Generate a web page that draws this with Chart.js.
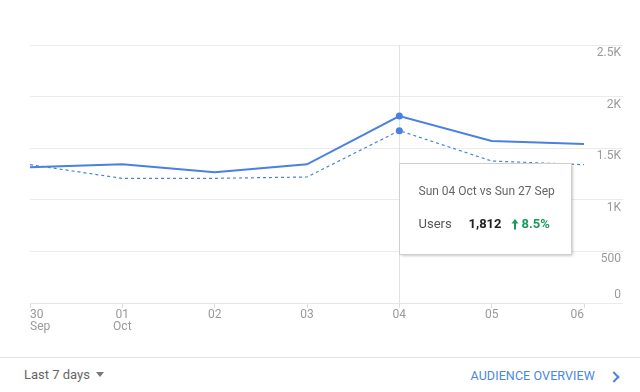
<!DOCTYPE html>
<html>
<head>
<meta charset="utf-8">
<script src="https://cdn.jsdelivr.net/npm/chart.js@4"></script>
<style>
  html, body { margin: 0; padding: 0; background: #fff; }
  body { width: 640px; height: 392px; position: relative; overflow: hidden; font-family: Roboto, "Noto Sans", sans-serif; }
  #wrap { position: absolute; left: 0; top: 0; width: 640px; height: 345px; }
  #footer { position: absolute; left: 0; top: 357px; width: 640px; height: 35px; border-top: 1px solid #e3e3e3; }
  #range { position: absolute; left: 24px; top: 9px; font-size: 13px; color: #666; }
  #range .caret { display: inline-block; margin-left: 6px; width: 0; height: 0; border-left: 4px solid transparent; border-right: 4px solid transparent; border-top: 5px solid #777; vertical-align: 2px; }
  #link { position: absolute; right: 45px; top: 10px; font-size: 12.5px; color: #4a88dc; letter-spacing: 0.1px; }
  #chev { position: absolute; left: 610px; top: 15px; width: 6px; height: 6px; border-top: 2px solid #4a88dc; border-right: 2px solid #4a88dc; transform: rotate(45deg); }
</style>
</head>
<body>
<div id="wrap"><canvas id="chartCanvas"></canvas></div>
<div id="footer">
  <span id="range">Last 7 days<span class="caret"></span></span>
  <span id="link">AUDIENCE OVERVIEW</span>
  <span id="chev"></span>
</div>
<script>
// --- data ---
const days = [["30", "Sep"], ["01", "Oct"], "02", "03", "04", "05", "06"];
const usersThisWeek = [1315, 1344, 1266, 1344, 1812, 1570, 1541];
const usersLastWeek = [1340, 1208, 1208, 1221, 1670, 1376, 1340];
const yTicks = [0, 500, 1000, 1500, 2000, 2500];
const yTickLabels = ["0", "500", "1K", "1.5K", "2K", "2.5K"];
const hoverIndex = 4;
const tipTitle = "Sun 04 Oct vs Sun 27 Sep";
const tipMetric = "Users";

const blue = "#4a80e2";

// y labels sit just under their grid line (the bottom one just above)
const yLabelPlugin = {
  id: "yLabels",
  afterDraw(chart) {
    const ctx = chart.ctx;
    const y = chart.scales.y;
    ctx.save();
    ctx.font = "12px Roboto";
    ctx.fillStyle = "#9a9a9a";
    ctx.textAlign = "right";
    ctx.textBaseline = "middle";
    yTicks.forEach((v, i) => {
      const py = y.getPixelForValue(v);
      ctx.fillText(yTickLabels[i], 621, v === 0 ? py - 8 : py + 8);
    });
    ctx.restore();
  }
};

// hover line + tooltip box
const hoverPlugin = {
  id: "hover",
  beforeDatasetsDraw(chart) {
    const ctx = chart.ctx;
    const x = Math.round(chart.scales.x.getPixelForValue(hoverIndex)) + 0.5;
    ctx.save();
    ctx.strokeStyle = "#e2e2e2";
    ctx.lineWidth = 1;
    ctx.beginPath();
    ctx.moveTo(x, chart.chartArea.top);
    ctx.lineTo(x, chart.chartArea.bottom);
    ctx.stroke();
    ctx.restore();
  },
  afterDraw(chart) {
    const ctx = chart.ctx;
    const x = Math.round(chart.scales.x.getPixelForValue(hoverIndex));
    const left = x + 0.5, top = 163.5, w = 172, h = 91;
    const cur = usersThisWeek[hoverIndex], prev = usersLastWeek[hoverIndex];
    const pct = ((cur - prev) / prev * 100).toFixed(1);
    ctx.save();
    ctx.shadowColor = "rgba(0,0,0,0.28)";
    ctx.shadowBlur = 3;
    ctx.shadowOffsetX = 1;
    ctx.shadowOffsetY = 1;
    ctx.fillStyle = "#fff";
    ctx.fillRect(left, top, w, h);
    ctx.shadowColor = "transparent";
    ctx.strokeStyle = "#cfcfcf";
    ctx.strokeRect(left, top, w, h);
    ctx.textBaseline = "middle";
    ctx.textAlign = "left";
    ctx.font = "12px Roboto";
    ctx.fillStyle = "#666";
    ctx.fillText(tipTitle, left + 19, top + 28);
    ctx.font = "13px Roboto";
    ctx.fillStyle = "#555";
    ctx.fillText(tipMetric, left + 19, top + 61);
    ctx.font = "bold 13px Roboto";
    ctx.fillStyle = "#222";
    ctx.fillText(cur.toLocaleString("en-US"), left + 69, top + 61);
    // up arrow
    const green = "#1a9a5a";
    const ax = left + 115.5, ay = top + 61;
    ctx.strokeStyle = green;
    ctx.fillStyle = green;
    ctx.lineWidth = 2;
    ctx.beginPath();
    ctx.moveTo(ax, ay - 2);
    ctx.lineTo(ax, ay + 5);
    ctx.stroke();
    ctx.beginPath();
    ctx.moveTo(ax - 3.5, ay - 1);
    ctx.lineTo(ax, ay - 5.5);
    ctx.lineTo(ax + 3.5, ay - 1);
    ctx.closePath();
    ctx.fill();
    ctx.fillText(pct + "%", left + 122, top + 61);
    ctx.restore();
  }
};

const ctx = document.getElementById("chartCanvas").getContext("2d");
new Chart(ctx, {
  type: "line",
  data: {
    labels: days,
    datasets: [
      {
        label: "Users",
        data: usersThisWeek,
        borderColor: blue,
        borderWidth: 2,
        pointRadius: usersThisWeek.map((v, i) => i === hoverIndex ? 3.5 : 0),
        pointBackgroundColor: blue,
        pointBorderWidth: 0,
        tension: 0
      },
      {
        label: "Users (previous)",
        data: usersLastWeek,
        borderColor: blue,
        borderWidth: 1.2,
        borderDash: [3, 3],
        pointRadius: usersLastWeek.map((v, i) => i === hoverIndex ? 3.5 : 0),
        pointBackgroundColor: blue,
        pointBorderWidth: 0,
        tension: 0
      }
    ]
  },
  options: {
    responsive: true,
    maintainAspectRatio: false,
    animation: false,
    layout: { padding: { left: 30, top: 45, right: 0, bottom: 0 } },
    plugins: { legend: { display: false }, tooltip: { enabled: false } },
    events: [],
    scales: {
      x: {
        grid: { drawOnChartArea: false, tickLength: 5, color: "#dddddd" },
        border: { color: "#e6e6e6" },
        ticks: {
          align: "inner",
          maxRotation: 0,
          autoSkip: false,
          padding: 1,
          color: "#9a9a9a",
          font: { family: "Roboto", size: 12, lineHeight: 1.0 }
        },
        afterFit(scale) { scale.height = 42; }
      },
      y: {
        position: "right",
        min: 0,
        max: 2500,
        afterBuildTicks(scale) { scale.ticks = yTicks.map(v => ({ value: v })); },
        grid: { color: "#ebebeb", tickLength: 39, drawTicks: true },
        border: { display: false },
        ticks: { display: false },
        afterFit(scale) { scale.width = 56; }
      }
    }
  },
  plugins: [yLabelPlugin, hoverPlugin]
});
</script>
</body>
</html>
